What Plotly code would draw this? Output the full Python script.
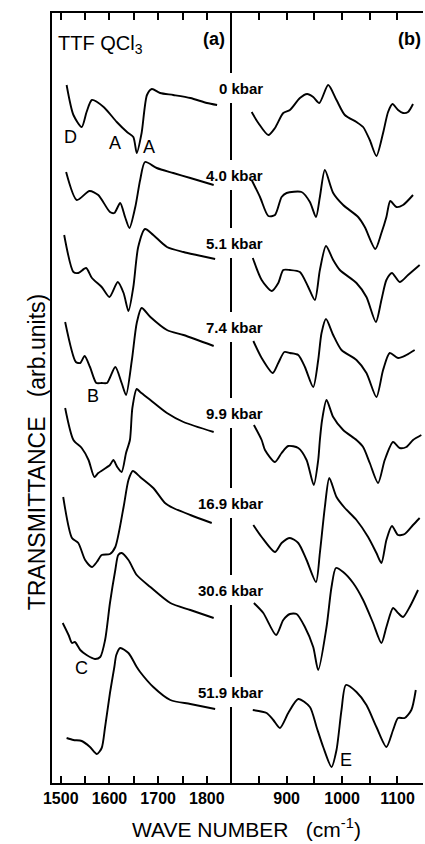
import plotly.graph_objects as go

# ---------------- data (wave number cm-1, transmittance arb. units) ----------------
pressures = ["0", "4.0", "5.1", "7.4", "9.9", "16.9", "30.6", "51.9"]

# panel (a): 1500-1800 cm-1
wn_a_00 = [1512, 1526, 1543, 1553, 1564, 1588, 1615, 1636, 1649, 1656, 1666, 1677, 1687, 1704, 1731, 1766, 1800, 1821]
tr_a_00 = [69.8, 66.8, 65.6, 67.1, 68.3, 67.6, 66.1, 65.1, 64.6, 63.0, 65.0, 68.8, 69.4, 69.0, 68.8, 68.5, 68.0, 67.8]

wn_a_04 = [1511, 1533, 1559, 1577, 1601, 1610, 1622, 1632, 1641, 1653, 1663, 1673, 1697, 1731, 1766, 1814]
tr_a_04 = [61.1, 58.3, 59.2, 58.8, 57.1, 57.0, 58.0, 56.6, 55.5, 57.6, 60.3, 62.1, 61.5, 61.0, 60.5, 59.8]

wn_a_05 = [1507, 1526, 1536, 1552, 1564, 1584, 1600, 1617, 1629, 1639, 1649, 1659, 1673, 1690, 1718, 1752, 1779, 1817]
tr_a_05 = [54.8, 51.1, 51.0, 51.5, 50.5, 49.6, 48.6, 50.1, 49.0, 47.2, 49.6, 53.6, 55.4, 54.8, 53.6, 53.1, 52.8, 52.4]

wn_a_07 = [1509, 1531, 1540, 1549, 1560, 1573, 1584, 1595, 1612, 1625, 1634, 1646, 1656, 1666, 1684, 1718, 1752, 1814]
tr_a_07 = [46.1, 42.1, 42.0, 42.7, 41.6, 40.0, 40.0, 40.0, 41.6, 40.0, 38.8, 42.3, 46.0, 47.5, 46.6, 45.3, 44.8, 43.7]

wn_a_09 = [1509, 1526, 1543, 1557, 1569, 1577, 1601, 1608, 1616, 1625, 1634, 1642, 1647, 1656, 1663, 1684, 1718, 1752, 1814]
tr_a_09 = [37.5, 34.3, 33.5, 32.3, 30.6, 31.0, 31.8, 32.3, 31.6, 31.1, 33.0, 34.3, 37.5, 39.4, 39.1, 38.3, 37.0, 36.1, 35.1]

wn_a_16 = [1505, 1523, 1536, 1550, 1564, 1574, 1584, 1601, 1612, 1629, 1639, 1648, 1663, 1690, 1714, 1731, 1766, 1810]
tr_a_16 = [28.6, 24.5, 24.0, 22.3, 21.6, 22.1, 22.8, 22.9, 23.6, 27.6, 30.3, 31.2, 30.6, 29.5, 28.0, 27.5, 26.8, 26.0]

wn_a_30 = [1504, 1516, 1523, 1529, 1540, 1553, 1570, 1581, 1591, 1601, 1612, 1618, 1625, 1639, 1656, 1684, 1725, 1766, 1814]
tr_a_30 = [16.0, 14.8, 14.0, 14.1, 13.3, 12.8, 12.4, 12.6, 14.3, 18.0, 21.3, 22.8, 23.0, 22.3, 20.8, 19.6, 18.0, 17.3, 16.5]

wn_a_51 = [1512, 1526, 1543, 1560, 1574, 1584, 1591, 1601, 1610, 1614, 1622, 1639, 1656, 1663, 1690, 1725, 1766, 1817]
tr_a_51 = [4.5, 4.3, 4.2, 3.6, 2.9, 3.5, 5.6, 9.0, 11.6, 12.8, 13.5, 13.0, 11.6, 11.1, 9.6, 8.3, 7.9, 7.4]

# panel (b): 850-1140 cm-1
wn_b_00 = [837, 849, 867, 879, 894, 906, 924, 937, 948, 959, 975, 990, 1005, 1026, 1038, 1050, 1062, 1074, 1083, 1091, 1101, 1110, 1119, 1128]
tr_b_00 = [67.1, 66.0, 64.8, 65.5, 67.0, 67.3, 68.5, 68.9, 68.6, 68.0, 69.8, 68.3, 66.8, 66.1, 65.6, 64.3, 62.7, 65.0, 67.1, 67.9, 67.3, 67.0, 67.1, 67.9]

wn_b_04 = [837, 852, 867, 879, 891, 900, 927, 942, 953, 960, 969, 984, 1002, 1029, 1041, 1060, 1071, 1080, 1087, 1098, 1110, 1128]
tr_b_04 = [60.3, 58.6, 56.7, 56.8, 58.6, 59.0, 59.1, 58.1, 56.6, 58.6, 61.3, 59.0, 57.8, 56.6, 55.6, 53.4, 55.0, 56.6, 58.2, 57.6, 57.8, 58.8]

wn_b_05 = [839, 855, 873, 885, 894, 906, 924, 939, 951, 960, 971, 984, 996, 1026, 1044, 1061, 1071, 1080, 1090, 1104, 1119, 1140]
tr_b_05 = [52.5, 50.3, 49.2, 50.0, 51.3, 51.3, 51.1, 49.6, 48.3, 51.3, 53.7, 52.3, 51.3, 50.0, 48.6, 46.1, 48.3, 50.3, 51.0, 50.1, 50.8, 51.8]

wn_b_07 = [840, 855, 875, 885, 896, 906, 921, 933, 948, 957, 963, 971, 984, 999, 1026, 1044, 1062, 1074, 1086, 1101, 1116, 1131]
tr_b_07 = [44.2, 42.5, 41.0, 42.0, 43.1, 43.0, 42.8, 41.6, 39.6, 42.3, 45.0, 46.4, 44.8, 43.3, 42.3, 41.0, 38.6, 41.3, 43.0, 42.5, 42.8, 43.3]

wn_b_09 = [841, 855, 861, 879, 891, 903, 921, 936, 949, 957, 960, 964, 972, 984, 1002, 1026, 1038, 1050, 1065, 1077, 1092, 1104, 1116, 1128, 1143]
tr_b_09 = [35.8, 34.3, 33.3, 32.1, 33.0, 33.7, 33.5, 32.3, 29.8, 32.3, 34.3, 36.3, 38.3, 36.6, 35.3, 34.3, 33.6, 32.0, 30.0, 32.3, 34.1, 33.5, 33.6, 34.3, 34.8]

wn_b_16 = [840, 855, 879, 891, 906, 921, 936, 953, 960, 969, 977, 990, 1005, 1026, 1047, 1062, 1071, 1080, 1090, 1101, 1113, 1128, 1140]
tr_b_16 = [25.8, 24.6, 23.1, 24.0, 24.5, 24.0, 22.3, 20.1, 23.0, 27.6, 30.5, 28.6, 27.5, 26.3, 24.6, 23.0, 22.0, 24.3, 25.7, 24.8, 24.9, 25.8, 26.5]

wn_b_30 = [841, 858, 881, 894, 906, 918, 933, 948, 957, 972, 981, 989, 1002, 1020, 1038, 1056, 1071, 1080, 1092, 1101, 1110, 1122, 1137]
tr_b_30 = [18.0, 17.0, 14.8, 16.3, 16.9, 16.9, 15.6, 13.6, 11.3, 15.6, 19.6, 21.5, 21.1, 20.0, 18.3, 16.0, 14.0, 15.6, 17.5, 17.0, 16.6, 17.6, 19.3]

wn_b_51 = [839, 864, 876, 888, 903, 921, 942, 954, 966, 981, 990, 999, 1007, 1026, 1044, 1062, 1080, 1092, 1101, 1113, 1125, 1133]
tr_b_51 = [7.3, 7.0, 6.3, 5.5, 7.0, 8.4, 7.6, 5.6, 3.6, 1.6, 3.3, 7.3, 9.8, 9.1, 7.8, 5.6, 3.6, 5.3, 6.5, 6.5, 7.3, 9.3]

# pressure label levels (arb. units) and band letters
label_levels = [69.5, 60.8, 54.0, 45.6, 37.0, 28.0, 19.3, 9.1]
band_letters = ["D", "A", "A", "B", "C"]
band_wn = [1521, 1612, 1682, 1567, 1542]
band_tr = [64.6, 64.0, 63.6, 38.75, 11.5]
band_b_letter = "E"
band_b_wn = 1007
band_b_tr = 2.35

ticks_a = [1500, 1600, 1700, 1800]
minor_a = [1550, 1650, 1750]
ticks_b = [900, 1000, 1100]
minor_b = [850, 950, 1050]

# ---------------- figure ----------------
series_a = [(wn_a_00, tr_a_00), (wn_a_04, tr_a_04), (wn_a_05, tr_a_05), (wn_a_07, tr_a_07),
            (wn_a_09, tr_a_09), (wn_a_16, tr_a_16), (wn_a_30, tr_a_30), (wn_a_51, tr_a_51)]
series_b = [(wn_b_00, tr_b_00), (wn_b_04, tr_b_04), (wn_b_05, tr_b_05), (wn_b_07, tr_b_07),
            (wn_b_09, tr_b_09), (wn_b_16, tr_b_16), (wn_b_30, tr_b_30), (wn_b_51, tr_b_51)]

fig = go.Figure()
line_style = dict(color="black", width=1.9, shape="spline", smoothing=0.7)
for p, (x, y) in zip(pressures, series_a):
    fig.add_trace(go.Scatter(x=x, y=y, mode="lines", line=line_style, name=p + " kbar",
                             xaxis="x", yaxis="y", showlegend=False, hoverinfo="skip"))
for p, (x, y) in zip(pressures, series_b):
    fig.add_trace(go.Scatter(x=x, y=y, mode="lines", line=line_style, name=p + " kbar",
                             xaxis="x2", yaxis="y2", showlegend=False, hoverinfo="skip"))

SANS = "Liberation Sans, Arial, Helvetica, sans-serif"

split = 0.4844
axis_common = dict(showline=True, linecolor="black", linewidth=2, mirror="ticks",
                   ticks="inside", ticklen=7, tickwidth=1.5, tickcolor="black",
                   showgrid=False, zeroline=False,
                   tickfont=dict(family=SANS, size=16, color="black", weight="bold"))

fig.update_layout(
    width=425, height=844,
    margin=dict(l=52, r=2, t=13, b=61),
    paper_bgcolor="white", plot_bgcolor="white",
    xaxis=dict(domain=[0, split], range=[1482, 1851], tickvals=ticks_a,
               minor=dict(tickvals=minor_a, ticks="inside", ticklen=7, tickwidth=1.5, tickcolor="black"),
               anchor="y", **axis_common),
    xaxis2=dict(domain=[split, 1], range=[801, 1146], tickvals=ticks_b,
                minor=dict(tickvals=minor_b, ticks="inside", ticklen=7, tickwidth=1.5, tickcolor="black"),
                anchor="y2", **axis_common),
    yaxis=dict(range=[0, 77], showline=True, linecolor="black", linewidth=2, mirror=False,
               showticklabels=False, ticks="", showgrid=False, zeroline=False, anchor="x"),
    yaxis2=dict(range=[0, 77], showline=True, linecolor="black", linewidth=1.5, mirror=False,
                showticklabels=False, ticks="", showgrid=False, zeroline=False,
                anchor="x2", matches="y"),
)

# white gaps in the panel divider behind each pressure label
shapes = []
for lv in label_levels:
    shapes.append(dict(type="rect", xref="paper", yref="y", x0=0.472, x1=0.497,
                       y0=lv - 1.5, y1=lv + 1.5, fillcolor="white", line=dict(width=0),
                       layer="above"))
fig.update_layout(shapes=shapes)

ann = []
for p, lv in zip(pressures, label_levels):
    ann.append(dict(text=p + " kbar", xref="paper", x=0.574, xanchor="right",
                    yref="y", y=lv, yanchor="middle", showarrow=False,
                    font=dict(family=SANS, size=15, color="black", weight="bold")))
for t, x, y in zip(band_letters, band_wn, band_tr):
    ann.append(dict(text=t, xref="x", x=x, yref="y", y=y, showarrow=False,
                    font=dict(family=SANS, size=18, color="black")))
ann.append(dict(text=band_b_letter, xref="x2", x=band_b_wn, yref="y2", y=band_b_tr, showarrow=False,
                font=dict(family=SANS, size=18, color="black")))
ann.append(dict(text="TTF QCl<sub>3</sub>", xref="paper", x=0.012, xanchor="left",
                yref="y", y=73.9, yanchor="middle", showarrow=False,
                font=dict(family=SANS, size=20, color="black")))
ann.append(dict(text="(a)", xref="paper", x=0.4717, xanchor="right",
                yref="y", y=74.4, yanchor="middle", showarrow=False,
                font=dict(family=SANS, size=18, color="black", weight="bold")))
ann.append(dict(text="(b)", xref="paper", x=1.0, xanchor="right",
                yref="y", y=74.4, yanchor="middle", showarrow=False,
                font=dict(family=SANS, size=18, color="black", weight="bold")))
ann.append(dict(text="TRANSMITTANCE   (arb.units)", xref="paper", x=-0.042, xanchor="center",
                yref="paper", y=0.43, yanchor="middle", textangle=-90, showarrow=False,
                font=dict(family=SANS, size=23, color="black")))
ann.append(dict(text="WAVE NUMBER   (cm<sup>-1</sup>)", xref="paper", x=0.523, xanchor="center",
                yref="paper", y=-0.058, yanchor="middle", showarrow=False,
                font=dict(family=SANS, size=21, color="black")))
fig.update_layout(annotations=ann)

fig.write_html("out.html", config={"displayModeBar": False},
               post_script="document.body.style.margin='0';document.body.style.overflow='hidden';")
